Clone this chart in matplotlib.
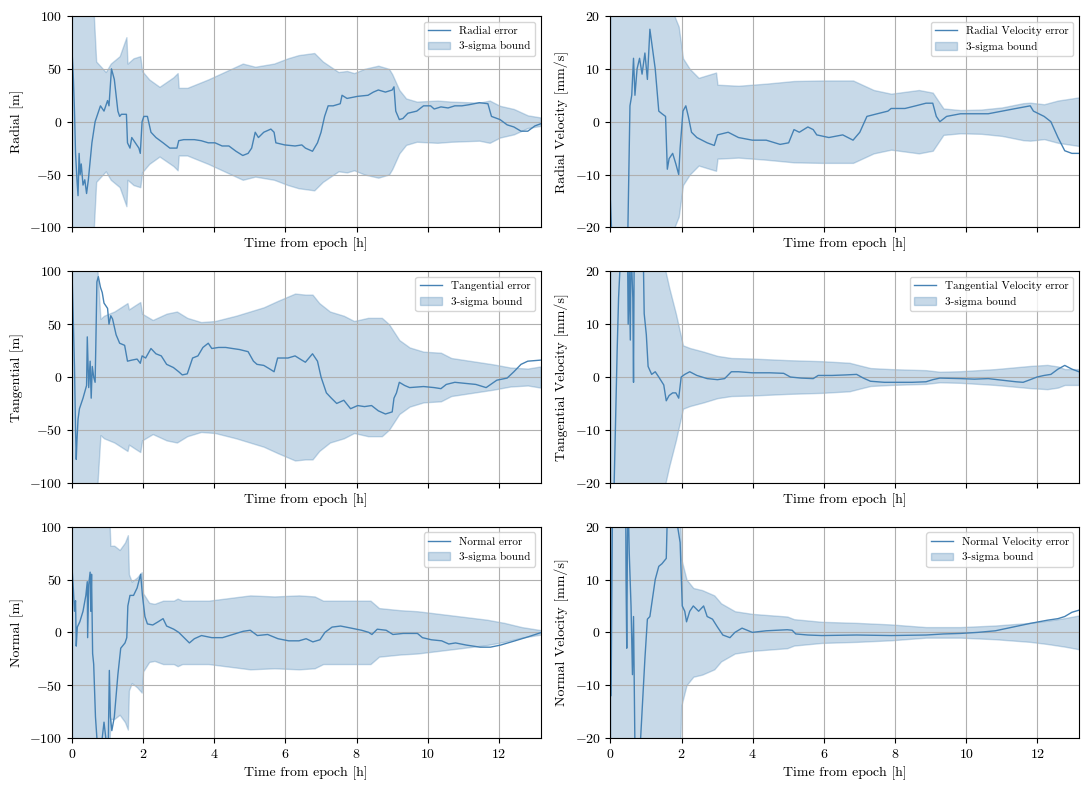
import matplotlib.pyplot as plt
from matplotlib.ticker import MultipleLocator

plt.rcParams['font.family'] = 'serif'
plt.rcParams['font.serif'] = ['cmr10']
plt.rcParams['mathtext.fontset'] = 'cm'
plt.rcParams['axes.formatter.use_mathtext'] = True
plt.rcParams['font.size'] = 10

# Radial position error [m]
rad_t = [0, 0.04, 0.07, 0.10, 0.14, 0.17, 0.20, 0.23, 0.26, 0.31, 0.36, 0.41, 0.46, 0.56, 0.65,
         0.80, 0.90, 1.00, 1.04, 1.11, 1.19, 1.29, 1.34, 1.39, 1.53, 1.56, 1.63, 1.68, 1.78, 1.88,
         1.92, 1.97, 2.02, 2.12, 2.22, 2.36, 2.56, 2.75, 2.95, 3.00, 3.14, 3.44, 3.63, 3.83, 4.02,
         4.22, 4.41, 4.61, 4.80, 4.95, 5.05, 5.15, 5.24, 5.39, 5.59, 5.68, 5.73, 5.98, 6.27, 6.46,
         6.56, 6.76, 6.90, 7.00, 7.10, 7.20, 7.34, 7.54, 7.59, 7.73, 8.03, 8.32, 8.47, 8.61, 8.81,
         9.00, 9.05, 9.10, 9.20, 9.30, 9.44, 9.69, 9.88, 10.08, 10.18, 10.37, 10.57, 10.76, 10.96,
         11.15, 11.45, 11.69, 11.79, 12.03, 12.23, 12.42, 12.62, 12.81, 13.01, 13.17]
rad_err = [68, 40, 10, -30, -55, -70, -30, -50, -40, -60, -55, -68, -55, -20, 0,
           15, 10, 20, 15, 50, 40, 10, 5, 7, 7, -20, -25, -15, -20, -25,
           -30, 0, 5, 5, -10, -15, -20, -25, -25, -18, -17, -17, -18, -20, -20,
           -23, -23, -28, -32, -30, -25, -10, -15, -10, -7, -10, -20, -22, -23, -22,
           -25, -28, -20, -10, 5, 15, 15, 17, 25, 22, 24, 25, 28, 30, 28,
           30, 33, 10, 2, 3, 8, 10, 15, 15, 12, 14, 13, 15, 15,
           16, 18, 17, 5, 2, -3, -5, -9, -9, -4, -2]
rad_sig_t = [0, 0.60, 0.68, 0.95, 1.09, 1.34, 1.53, 1.56, 1.73, 1.92, 1.97, 2.17, 2.46, 2.85,
             2.97, 3.00, 3.24, 3.83, 4.80, 5.15, 5.68, 6.07, 6.37, 6.81, 7.05, 7.49, 7.73, 7.93,
             8.22, 8.61, 8.91, 9.00, 9.20, 9.39, 9.69, 10.27, 10.66, 11.45, 11.74, 12.03, 12.42,
             12.81, 13.17]
rad_sig = [300, 110, 57, 47, 55, 62, 80, 55, 60, 62, 48, 40, 33, 42,
           46, 32, 32, 40, 55, 52, 55, 60, 63, 65, 57, 47, 48, 46,
           50, 53, 50, 45, 30, 22, 19, 20, 19, 18, 20, 15, 12,
           6, 4]

# Radial velocity error [mm/s]
rv_t = [0, 0.06, 0.48, 0.51, 0.55, 0.60, 0.65, 0.69, 0.75, 0.82, 0.89, 0.97, 1.04, 1.11, 1.18,
        1.26, 1.36, 1.45, 1.55, 1.60, 1.65, 1.75, 1.84, 1.92, 1.96, 2.04, 2.12, 2.19, 2.28, 2.43,
        2.72, 2.92, 3.01, 3.31, 3.60, 3.99, 4.38, 4.77, 5.01, 5.16, 5.31, 5.55, 5.70, 5.80, 6.14,
        6.53, 6.82, 7.01, 7.21, 7.50, 7.80, 7.89, 8.28, 8.58, 8.87, 9.06, 9.16, 9.26, 9.45, 9.84,
        10.23, 10.43, 10.62, 11.01, 11.40, 11.80, 11.89, 12.19, 12.38, 12.58, 12.77, 12.97, 13.17]
rv_err = [-15, -25, -25, -13, 3, 5, 12, 5, 10, 12, 9, 13, 8, 17.5, 14,
          10, 2, 1.5, 1, -9, -7, -6, -8, -10, -5, 2, 3, 1, -2, -3,
          -4, -4.5, -2.5, -2, -3, -3.5, -3.5, -4.3, -4, -1.5, -2, -1, -1.5, -2.5, -3,
          -2.5, -3.5, -2, 1, 1.5, 2, 2.5, 2.5, 3, 3.5, 3.5, 1, 0, 1, 1.5,
          1.5, 1.5, 1.5, 2, 2.5, 3, 2, 1, 0, -3, -5.5, -6, -6]
rv_sig_t = [0, 1.80, 1.92, 2.04, 2.23, 2.48, 2.82, 2.97, 3.01, 3.60, 4.38, 5.16, 5.94, 6.82,
            7.40, 7.89, 8.67, 9.06, 9.36, 9.84, 10.43, 11.01, 11.60, 11.80, 12.19, 12.58, 13.17]
rv_sig = [60, 20, 18, 12, 10, 8.3, 9, 9.3, 7, 6.8, 7.2, 7.7, 7.8, 7.8,
          6, 5.3, 6, 5.5, 2.5, 2.2, 2.3, 2.7, 3.5, 3.6, 3.3, 4, 4.6]

# Tangential position error [m]
tan_t = [0, 0.04, 0.07, 0.10, 0.12, 0.14, 0.17, 0.21, 0.31, 0.41, 0.43, 0.47, 0.51, 0.54, 0.57,
         0.61, 0.65, 0.67, 0.70, 0.74, 0.80, 0.85, 0.90, 1.00, 1.04, 1.09, 1.14, 1.24, 1.34, 1.48,
         1.56, 1.68, 1.83, 1.92, 1.97, 2.07, 2.22, 2.36, 2.51, 2.66, 2.85, 3.00, 3.10, 3.24, 3.39,
         3.54, 3.68, 3.83, 3.93, 4.12, 4.32, 4.51, 4.71, 4.95, 5.10, 5.20, 5.39, 5.54, 5.68, 5.78,
         6.07, 6.27, 6.46, 6.56, 6.76, 6.90, 7.00, 7.15, 7.29, 7.44, 7.64, 7.83, 8.03, 8.22, 8.42,
         8.61, 8.81, 9.00, 9.05, 9.12, 9.20, 9.35, 9.49, 9.88, 10.18, 10.37, 10.52, 10.76, 11.05,
         11.35, 11.64, 11.94, 12.23, 12.42, 12.62, 12.81, 13.17]
tan_err = [100, 50, 10, -50, -78, -60, -40, -30, -20, -8, 38, -10, 15, -20, 10,
           0, -5, 30, 90, 95, 85, 80, 70, 65, 50, 58, 55, 40, 32, 30,
           15, 16, 17, 13, 20, 18, 27, 22, 20, 12, 9, 5, 2, 3, 18,
           20, 28, 32, 27, 28, 28, 27, 26, 24, 15, 12, 11, 8, 5, 18,
           18, 20, 16, 14, 22, 15, 0, -15, -20, -25, -22, -30, -27, -28, -27,
           -32, -35, -33, -20, -15, -5, -8, -10, -9, -10, -11, -7, -5, -6,
           -7, -10, -3, -1, 5, 12, 15, 16]
tan_sig_t = [0, 0.70, 0.80, 0.90, 1.19, 1.56, 1.60, 1.78, 1.92, 1.97, 2.27, 2.66, 2.95, 3.24,
             3.63, 4.02, 4.61, 5.00, 5.39, 5.78, 6.27, 6.56, 6.76, 6.95, 7.25, 7.64, 7.93, 8.32,
             8.71, 8.91, 9.20, 9.49, 9.88, 10.37, 10.66, 11.25, 11.84, 12.32, 12.81, 13.17]
tan_sig = [300, 110, 55, 58, 62, 70, 64, 68, 71, 60, 54, 60, 62, 56,
           52, 53, 58, 62, 66, 72, 79, 78, 78, 70, 62, 58, 53, 56,
           56, 50, 35, 28, 24, 23, 18, 15, 12, 9, 8, 10]

# Tangential velocity error [mm/s]
tv_t = [0, 0.09, 0.14, 0.19, 0.23, 0.30, 0.48, 0.50, 0.53, 0.56, 0.58, 0.63, 0.65, 0.67, 0.92,
        0.95, 1.01, 1.06, 1.16, 1.26, 1.36, 1.50, 1.57, 1.65, 1.75, 1.84, 1.92, 1.99, 2.09, 2.23,
        2.43, 2.72, 3.01, 3.21, 3.40, 3.60, 3.99, 4.48, 4.87, 5.06, 5.36, 5.70, 5.84, 6.23, 6.62,
        6.92, 7.11, 7.31, 7.70, 8.09, 8.48, 8.87, 9.06, 9.26, 9.84, 10.23, 10.62, 11.01, 11.40,
        11.60, 11.80, 11.99, 12.19, 12.38, 12.58, 12.77, 12.97, 13.17]
tv_err = [-25, -25, -10, 5, 15, 25, 25, 10, 20, 7, 25, 15, -1, 25, 25,
          12, 8, 2, 0.5, 1, 0, -1.5, -4.5, -3.5, -3, -3, -4, 0, 0.5, 1,
          0.3, -0.3, -0.5, -0.3, 1, 1, 0.8, 0.8, 0.7, 0, -0.2, -0.3, 0.3, 0.3, 0.4,
          0.5, -0.2, -0.8, -1, -1, -1, -0.9, -0.5, -0.2, -0.3, -0.4, -0.3, -0.6, -0.9,
          -1, -0.5, 0, 0.3, 0.5, 1.5, 2.2, 1.5, 1]
tv_sig_t = [0, 1.50, 1.55, 1.65, 1.84, 1.94, 2.04, 2.23, 2.62, 3.01, 3.40, 3.99, 4.97, 5.94,
            6.72, 7.01, 7.31, 7.89, 8.87, 9.26, 9.84, 10.82, 11.80, 12.28, 12.58, 12.77, 13.17]
tv_sig = [60, 22, 20, 17, 12, 9, 6, 5.5, 4.8, 4, 3.6, 3.5, 3.2, 3.0,
          2.7, 2.2, 1.7, 1.5, 1.3, 1.0, 1.1, 1.5, 2.1, 2.3, 2.0, 1.5, 1.5]

# Normal position error [m]
nor_t = [0, 0.04, 0.07, 0.10, 0.12, 0.15, 0.22, 0.31, 0.39, 0.43, 0.44, 0.47, 0.51, 0.53, 0.55,
         0.58, 0.61, 0.66, 0.70, 0.80, 0.85, 0.90, 0.95, 1.02, 1.05, 1.08, 1.12, 1.19, 1.29, 1.37,
         1.49, 1.54, 1.57, 1.63, 1.73, 1.83, 1.93, 1.98, 2.05, 2.12, 2.27, 2.42, 2.56, 2.66, 2.86,
         3.00, 3.15, 3.30, 3.44, 3.64, 3.93, 4.23, 4.52, 4.81, 5.01, 5.21, 5.50, 5.79, 6.09, 6.38,
         6.58, 6.77, 6.97, 7.11, 7.31, 7.55, 7.85, 8.14, 8.34, 8.43, 8.58, 8.83, 9.02, 9.31, 9.71,
         9.85, 10.10, 10.39, 10.59, 10.78, 11.08, 11.47, 11.76, 12.05, 12.45, 12.84, 13.20]
nor_err = [62, 40, 20, 30, -13, 5, 10, 20, 35, 48, -5, 45, 57, 20, 55,
           -20, -30, -80, -100, -105, -100, -85, -100, -105, -36, -80, -93, -80, -40, -15,
           -10, -5, 25, 35, 35, 42, 55, 35, 15, 8, 7, 10, 13, 6, 3,
           0, -5, -10, -6, -3, -5, -5, -2, 1, 2, -3, -2, -6, -8, -8,
           -6, -9, -7, 0, 5, 6, 4, 2, 0, -2, 3, 2, -2, -1, -1,
           -5, -7, -8, -11, -10, -12, -14, -14, -12, -8, -4, 0]
nor_sig_t = [0, 1.05, 1.08, 1.19, 1.34, 1.49, 1.57, 1.60, 1.68, 1.83, 1.96, 2.00, 2.17, 2.32,
             2.56, 2.86, 2.97, 3.10, 3.84, 5.01, 5.69, 6.38, 6.82, 7.06, 7.75, 8.39, 8.63, 9.22,
             9.71, 10.69, 11.66, 12.15, 12.64, 13.20]
nor_sig = [300, 110, 82, 82, 78, 85, 92, 55, 48, 52, 57, 37, 28, 27,
           30, 30, 32, 30, 30, 35, 34, 35, 34, 30, 30, 30, 23, 21,
           20, 16, 12, 9, 5, 2]

# Normal velocity error [mm/s]
nv_t = [0, 0.02, 0.06, 0.43, 0.44, 0.46, 0.48, 0.50, 0.53, 0.58, 0.62, 0.65, 0.69, 0.75, 0.85,
        0.97, 1.04, 1.11, 1.26, 1.36, 1.45, 1.57, 1.60, 1.75, 1.89, 1.96, 2.02, 2.09, 2.14, 2.23,
        2.33, 2.48, 2.62, 2.72, 2.87, 3.01, 3.16, 3.36, 3.50, 3.70, 3.99, 4.38, 4.97, 5.11, 5.21,
        5.55, 5.94, 6.92, 7.89, 8.87, 9.36, 9.84, 10.33, 10.82, 11.31, 11.80, 12.28, 12.58, 12.77,
        12.97, 13.17]
nv_err = [25, -12, 25, 25, 10, -3, 18, 25, 15, 5, -8, 3, -22, -25, -20,
          -5, 2.5, 3, 10, 12.5, 13, 14, 22, 20, 20, 17, 5, 4, 2, 4,
          5, 4, 5, 3, 2.5, 1, -0.5, -1, 0, 0.8, 0, 0.3, 0.5, 0.4, -0.3,
          -0.5, -0.6, -0.5, -0.6, -0.5, -0.3, -0.2, 0, 0.3, 1, 1.7, 2.3, 2.6, 3,
          3.8, 4.2]
nv_sig_t = [0, 1.97, 1.99, 2.14, 2.33, 2.58, 2.92, 3.11, 3.50, 3.99, 4.97, 5.16, 5.94, 6.92,
            7.89, 8.87, 9.84, 10.82, 11.80, 12.28, 12.77, 13.17]
nv_sig = [60, 20, 14, 10, 8.4, 8, 7, 5.5, 4, 3.5, 3, 2.5, 2, 1.8,
          1.5, 1.0, 1.0, 1.3, 1.8, 2.2, 2.7, 3.2]

panels = [
    (rad_t, rad_err, rad_sig_t, rad_sig, 'Radial error', 'Radial [m]', 100),
    (rv_t, rv_err, rv_sig_t, rv_sig, 'Radial Velocity error', 'Radial Velocity [mm/s]', 20),
    (tan_t, tan_err, tan_sig_t, tan_sig, 'Tangential error', 'Tangential [m]', 100),
    (tv_t, tv_err, tv_sig_t, tv_sig, 'Tangential Velocity error', 'Tangential Velocity [mm/s]', 20),
    (nor_t, nor_err, nor_sig_t, nor_sig, 'Normal error', 'Normal [m]', 100),
    (nv_t, nv_err, nv_sig_t, nv_sig, 'Normal Velocity error', 'Normal Velocity [mm/s]', 20),
]

fig, axes = plt.subplots(3, 2, figsize=(10.89, 7.9), dpi=100, sharex=True)
for ax, (t, err, st, sig, lab, ylab, lim) in zip(axes.flat, panels):
    ax.plot(t, err, color='steelblue', linewidth=1, label=lab)
    ax.fill_between(st, [-s for s in sig], sig, color='steelblue', alpha=0.3, label='3-sigma bound')
    ax.set_ylim(-lim, lim)
    ax.set_xlim(0, 13.17)
    ax.yaxis.set_major_locator(MultipleLocator(lim / 2))
    ax.set_xlabel('Time from epoch [h]')
    ax.set_ylabel(ylab)
    ax.grid(True)
    ax.legend(loc='upper right', fontsize=8)

plt.subplots_adjust(left=0.0661, right=0.9908, top=0.9797, bottom=0.0658,
                    wspace=0.149, hspace=0.2085)
plt.savefig('out.png', dpi=100)
